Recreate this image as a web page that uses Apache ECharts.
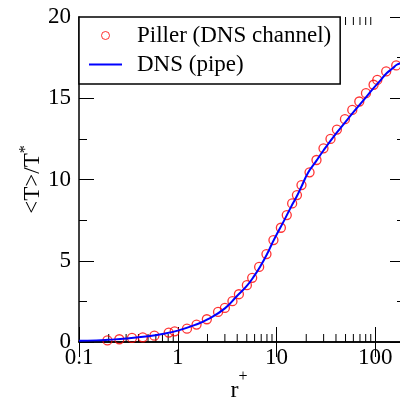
<!DOCTYPE html>
<html><head><meta charset="utf-8">
<script src="https://cdn.jsdelivr.net/npm/echarts@6/dist/echarts.min.js"></script>
<style>html,body{margin:0;padding:0;background:#fff}#c{width:400px;height:398px}</style>
</head><body><div id="c"></div>
<script>
// Piller (DNS channel) - circles
const pillerX = [0.194,0.256,0.344,0.442,0.58,0.81,0.93,1.24,1.55,1.97,2.56,3.0,3.58,4.16,5.01,5.67,6.67,7.91,9.31,11.07,12.7,14.4,16.1,17.9,21.6,25.4,29.9,35.2,40.9,49.3,58.5,68.9,80.5,96.1,104.8,129,163];
const pillerY = [0.10,0.17,0.25,0.29,0.39,0.58,0.66,0.82,1.07,1.40,1.85,2.10,2.51,2.94,3.50,3.95,4.62,5.41,6.27,7.03,7.81,8.53,9.04,9.66,10.44,11.20,11.92,12.50,13.07,13.71,14.28,14.80,15.31,15.83,16.13,16.65,17.02];
// DNS (pipe) - line
const pipeX = [0.1,0.15,0.2,0.3,0.5,0.7,1,1.5,2,3,4,5,6,7,8,9,10,12,14,16,18,21,25,30,40,50,65,80,96,110,131,150,165,180];
const pipeY = [0.07,0.10,0.14,0.21,0.35,0.49,0.70,1.05,1.39,2.07,2.85,3.45,4.10,4.75,5.40,6.05,6.60,7.50,8.30,8.95,9.60,10.45,11.10,11.80,12.82,13.55,14.39,15.04,15.62,16.02,16.55,16.84,17.06,17.15];
// axis ticks
const xMajorLabels = [0.1, 1, 10, 100];
const xMinorTicks = [0.2,0.3,0.4,0.5,0.6,0.7,0.8,0.9,2,3,4,5,6,7,8,9,20,30,40,50,60,70,80,90];
const yMin = 0, yMax = 20, yStep = 5;
const xMin = 0.1, xMax = 200;

const FONT = 'Liberation Serif';
const chart = echarts.init(document.getElementById('c'), null, {renderer: 'canvas'});

const axisLine = {show: true, lineStyle: {color: '#000', width: 1.5}};
const labelFmt = v => {
  for (const m of xMajorLabels) if (Math.abs(v - m) / m < 1e-6) return String(m);
  return '';
};

const option = {
  animation: false,
  backgroundColor: '#fff',
  grid: {left: 79, top: 17, right: -5, bottom: 56, containLabel: false, outerBoundsMode: 'none'},
  legend: {
    left: 79, top: 17, orient: 'vertical',
    padding: [7, 9, 8, 9], itemGap: 6, itemWidth: 33, itemHeight: 8,
    backgroundColor: '#fff', borderColor: '#000', borderWidth: 1.5, borderRadius: 0,
    selectedMode: false,
    textStyle: {fontFamily: FONT, fontSize: 23, color: '#000', padding: [0, 0, 0, 10], lineHeight: 22},
    data: [
      {name: 'Piller (DNS channel)', icon: 'circle', itemStyle: {color: 'rgba(0,0,0,0)', borderColor: '#ff0000', borderWidth: 1}},
      {name: 'DNS (pipe)', itemStyle: {opacity: 0, color: 'rgba(0,0,0,0)', borderWidth: 0}}
    ]
  },
  xAxis: [
    {
      type: 'log', logBase: 10, min: xMin, max: xMax, position: 'bottom',
      axisLine, splitLine: {show: false},
      axisTick: {show: true, inside: true, length: 15, lineStyle: {color: '#000', width: 1}},
      axisLabel: {show: true, formatter: labelFmt, fontFamily: FONT, fontSize: 23, color: '#000', margin: 4, showMaxLabel: false},
      name: '{m|r}{s|+}', nameLocation: 'middle', nameGap: 27, nameMoveOverlap: false,
      nameTextStyle: {color: '#000', padding: [0, 6, 0, 0], rich: {
        m: {fontFamily: FONT, fontSize: 24, color: '#000', lineHeight: 44},
        s: {fontFamily: FONT, fontSize: 16, color: '#000', lineHeight: 16, verticalAlign: 'top'}
      }}
    },
    {
      type: 'log', logBase: 10, min: xMin, max: xMax, position: 'top',
      axisLine, splitLine: {show: false},
      axisTick: {show: true, inside: true, length: 15, lineStyle: {color: '#000', width: 1}},
      axisLabel: {show: false}
    }
  ],
  yAxis: [
    {
      type: 'value', min: yMin, max: yMax, interval: yStep, position: 'left',
      axisLine, splitLine: {show: false},
      axisTick: {show: true, inside: true, length: 15, lineStyle: {color: '#000', width: 1}},
      minorTick: {show: true, splitNumber: 2, length: 8, lineStyle: {color: '#000', width: 1}},
      axisLabel: {fontFamily: FONT, fontSize: 23, color: '#000', margin: 8},
      name: '{m|<T>/T}{s|*}', nameLocation: 'middle', nameGap: 31, nameRotate: 90, nameMoveOverlap: false,
      nameTextStyle: {color: '#000', rich: {
        m: {fontFamily: FONT, fontSize: 23, color: '#000', lineHeight: 30},
        s: {fontFamily: FONT, fontSize: 16, color: '#000', lineHeight: 16, verticalAlign: 'top'}
      }}
    },
    {
      type: 'value', min: yMin, max: yMax, interval: yStep, position: 'right',
      axisLine, splitLine: {show: false},
      axisTick: {show: true, inside: true, length: 15, lineStyle: {color: '#000', width: 1}},
      minorTick: {show: true, splitNumber: 2, length: 8, lineStyle: {color: '#000', width: 1}},
      axisLabel: {show: false}
    }
  ],
  series: [
    {
      name: 'xMinor', type: 'custom', xAxisIndex: 0, yAxisIndex: 0, silent: true, clip: false, z: 1,
      data: xMinorTicks.map(v => [v, yMin]),
      encode: {x: 0, y: 1},
      renderItem(params, api) {
        const v = api.value(0);
        const b = api.coord([v, yMin]);
        const t = api.coord([v, yMax]);
        return {type: 'group', children: [
          {type: 'line', shape: {x1: b[0], y1: b[1], x2: b[0], y2: b[1] - 8}, style: {stroke: '#000', lineWidth: 1}},
          {type: 'line', shape: {x1: t[0], y1: t[1], x2: t[0], y2: t[1] + 8}, style: {stroke: '#000', lineWidth: 1}}
        ]};
      }
    },
    {
      name: 'Piller (DNS channel)', type: 'scatter', xAxisIndex: 0, yAxisIndex: 0,
      symbol: 'circle', symbolSize: 9,
      itemStyle: {color: 'rgba(0,0,0,0)', borderColor: '#ff0000', borderWidth: 1.3},
      data: pillerX.map((x, i) => [x, pillerY[i]]), z: 2
    },
    {
      name: 'DNS (pipe)', type: 'line', xAxisIndex: 0, yAxisIndex: 0,
      showSymbol: false, symbol: 'none', smooth: true,
      lineStyle: {color: '#0000ff', width: 2}, itemStyle: {color: '#0000ff'},
      data: pipeX.map((x, i) => [x, pipeY[i]]), z: 3
    }
  ]
};
chart.setOption(option);
</script></body></html>
